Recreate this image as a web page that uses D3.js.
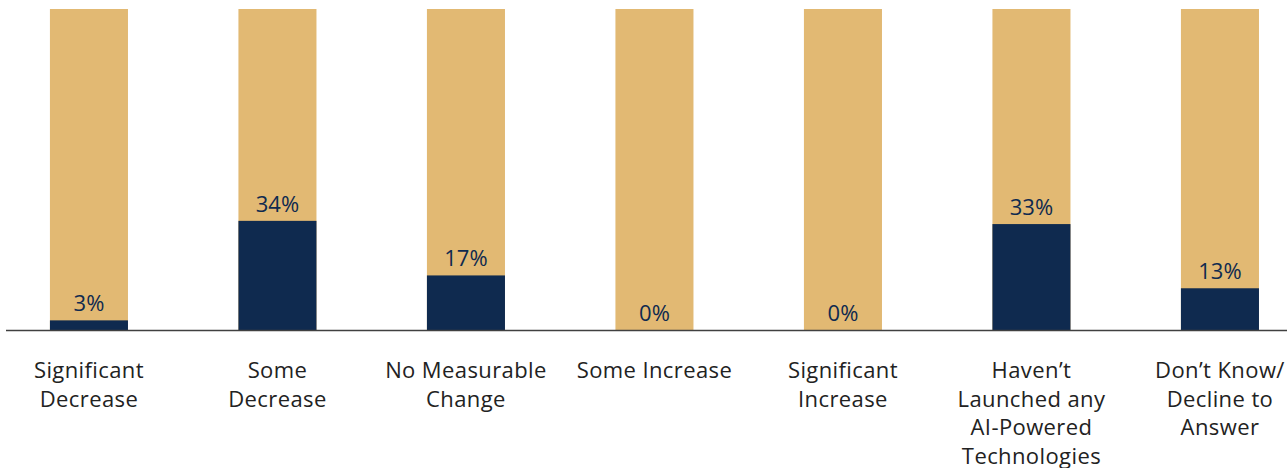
<!DOCTYPE html>
<html>
<head>
<meta charset="utf-8">
<script src="https://cdn.jsdelivr.net/npm/d3@7/dist/d3.min.js"></script>
<style>
  html, body { margin: 0; padding: 0; background: #ffffff; }
  svg { display: block; }
  text { font-family: "Open Sans", Lato, sans-serif; }
</style>
</head>
<body>
<svg id="chart" width="1287" height="468"></svg>
<script>
// Response categories (line breaks mark wrapped label lines)
const categories = [
  "Significant\nDecrease",
  "Some\nDecrease",
  "No Measurable\nChange",
  "Some Increase",
  "Significant\nIncrease",
  "Haven\u2019t\nLaunched any\nAI-Powered\nTechnologies",
  "Don\u2019t Know/\nDecline to\nAnswer"
];
// Share of respondents (%)
const values = [3, 34, 17, 0, 0, 33, 13];
// Full-scale backdrop for each bar (%)
const totals = [100, 100, 100, 100, 100, 100, 100];

const W = 1287, H = 468;
const baseY = 330, topY = 9;
const navy = "#0f2a4f", tan = "#e2b973";

const svg = d3.select("#chart");

const data = categories.map((c, i) => ({ cat: c, value: values[i], total: totals[i] }));

const x = d3.scaleBand()
  .domain(categories)
  .range([-5.3, 1314.2])
  .paddingInner(0.586)
  .paddingOuter(0.293);

const y = d3.scaleLinear().domain([0, 100]).range([baseY, topY]);

const g = svg.append("g");

// Backdrop bars
g.selectAll("rect.bg")
  .data(data)
  .join("rect")
  .attr("class", "bg")
  .attr("x", d => x(d.cat))
  .attr("width", x.bandwidth())
  .attr("y", d => y(d.total))
  .attr("height", d => y(0) - y(d.total))
  .attr("fill", tan);

// Value bars
g.selectAll("rect.val")
  .data(data)
  .join("rect")
  .attr("class", "val")
  .attr("x", d => x(d.cat))
  .attr("width", x.bandwidth())
  .attr("y", d => y(d.value))
  .attr("height", d => y(0) - y(d.value))
  .attr("fill", navy);

// Value labels
g.selectAll("text.val")
  .data(data)
  .join("text")
  .attr("class", "val")
  .attr("x", d => x(d.cat) + x.bandwidth() / 2)
  .attr("y", d => y(d.value) - 9)
  .attr("text-anchor", "middle")
  .attr("font-size", 22)
  .attr("fill", navy)
  .text(d => d.value + "%");

// Category axis
const axis = d3.axisBottom(x).tickSize(0).tickPadding(0).tickFormat("");
const ax = svg.append("g").attr("transform", `translate(0,${baseY})`).call(axis);
ax.select(".domain").remove();
ax.append("line")
  .attr("x1", 6).attr("x2", W)
  .attr("y1", 0.5).attr("y2", 0.5)
  .attr("stroke", "#404040")
  .attr("stroke-width", 1.5);

ax.selectAll(".tick").each(function (d) {
  const t = d3.select(this).append("text")
    .attr("text-anchor", "middle")
    .attr("font-size", 22)
    .attr("letter-spacing", 0.4)
    .attr("fill", "#222222");
  d.split("\n").forEach((line, i) => {
    t.append("tspan").attr("x", 0).attr("y", 48 + i * 28.5).text(line);
  });
});
</script>
</body>
</html>
